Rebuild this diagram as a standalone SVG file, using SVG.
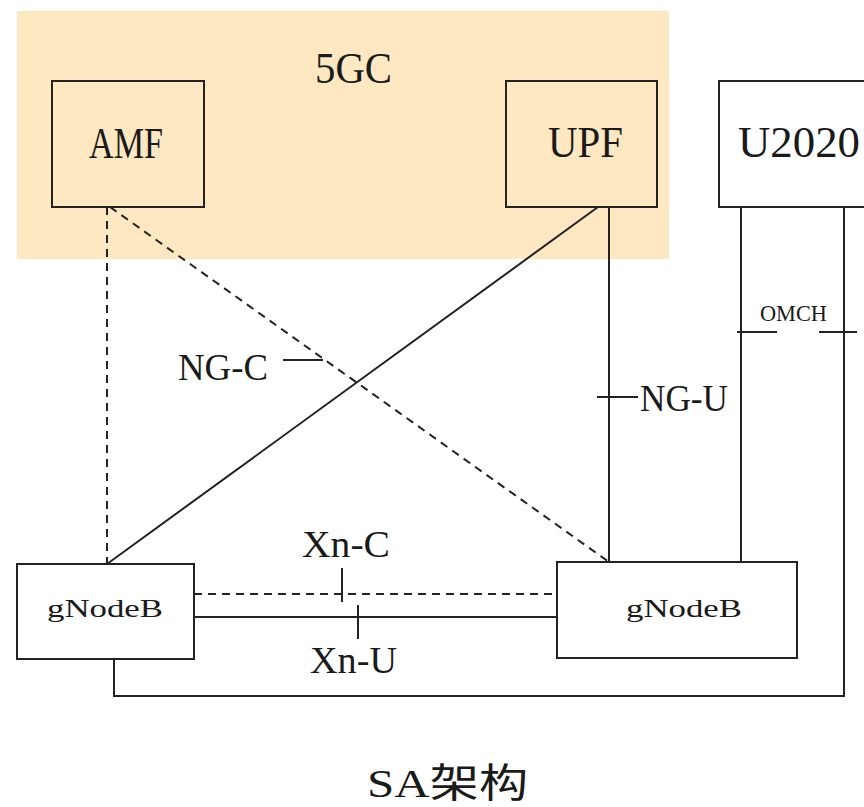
<svg xmlns="http://www.w3.org/2000/svg" width="864" height="807" viewBox="0 0 864 807">
  <style>
    .box { fill: none; stroke: #222; stroke-width: 2; }
    .wbox { fill: #ffffff; stroke: #222; stroke-width: 2; }
    .ln { fill: none; stroke: #222; stroke-width: 2; }
    .dash { fill: none; stroke: #222; stroke-width: 2; stroke-dasharray: 8 6; }
    text { font-family: "Liberation Serif", "Noto Sans CJK SC", serif; fill: #1a1a1a; }
    .big { font-size: 44px; }
    .cap { font-size: 40px; }
    .mid { font-size: 38px; }
    .sm { font-size: 26px; }
    .xs { font-size: 24px; }
  </style>
  <rect width="864" height="807" fill="#ffffff"/>
  <g id="core-5gc">
    <rect x="17" y="11" width="652" height="248" fill="#fde8c2"/>
    <text class="big" x="315" y="83" textLength="77" lengthAdjust="spacingAndGlyphs">5GC</text>
  </g>
  <g id="connectors">
    <line class="dash" x1="107" y1="207" x2="107" y2="564"/>
    <line class="dash" x1="110" y1="207" x2="609" y2="562"/>
    <line class="ln" x1="598" y1="207" x2="107" y2="564"/>
    <line class="ln" x1="609" y1="207" x2="609" y2="562"/>
    <line class="ln" x1="741" y1="207" x2="741" y2="562"/>
    <polyline class="ln" points="844,207 844,696 114,696 114,659"/>
    <line class="dash" x1="194" y1="594" x2="557" y2="594"/>
    <line class="ln" x1="194" y1="617" x2="557" y2="617"/>
    <line class="ln" x1="342" y1="568" x2="342" y2="602"/>
    <line class="ln" x1="358" y1="605" x2="358" y2="639"/>
    <line class="ln" x1="283" y1="360" x2="323" y2="360"/>
    <line class="ln" x1="597" y1="397" x2="638" y2="397"/>
    <line class="ln" x1="737" y1="332" x2="777" y2="332"/>
    <line class="ln" x1="819" y1="332" x2="857" y2="332"/>
    <text class="mid" x="178" y="380" textLength="90" lengthAdjust="spacingAndGlyphs">NG-C</text>
    <text class="mid" x="640" y="411" textLength="88" lengthAdjust="spacingAndGlyphs">NG-U</text>
    <text class="mid" x="302" y="557" textLength="88" lengthAdjust="spacingAndGlyphs">Xn-C</text>
    <text class="mid" x="310" y="673" textLength="87" lengthAdjust="spacingAndGlyphs">Xn-U</text>
    <text class="xs" x="760" y="321" textLength="67" lengthAdjust="spacingAndGlyphs">OMCH</text>
  </g>
  <g id="amf">
    <rect class="box" x="52" y="81" width="152" height="126"/>
    <text class="big" x="89" y="158" textLength="74" lengthAdjust="spacingAndGlyphs">AMF</text>
  </g>
  <g id="upf">
    <rect class="box" x="506" y="81" width="151" height="126"/>
    <text class="big" x="548" y="157" textLength="75" lengthAdjust="spacingAndGlyphs">UPF</text>
  </g>
  <g id="u2020">
    <rect class="wbox" x="719" y="81" width="170" height="126"/>
    <text class="big" x="738" y="157" textLength="122" lengthAdjust="spacingAndGlyphs">U2020</text>
  </g>
  <g id="gnodeb-left">
    <rect class="wbox" x="17" y="564" width="177" height="95"/>
    <text class="sm" x="47" y="617" textLength="116" lengthAdjust="spacingAndGlyphs">gNodeB</text>
  </g>
  <g id="gnodeb-right">
    <rect class="wbox" x="557" y="562" width="240" height="96"/>
    <text class="sm" x="626" y="617" textLength="116" lengthAdjust="spacingAndGlyphs">gNodeB</text>
  </g>
  <g id="caption">
    <text class="cap" x="367" y="797" textLength="161" lengthAdjust="spacingAndGlyphs">SA架构</text>
  </g>
</svg>
